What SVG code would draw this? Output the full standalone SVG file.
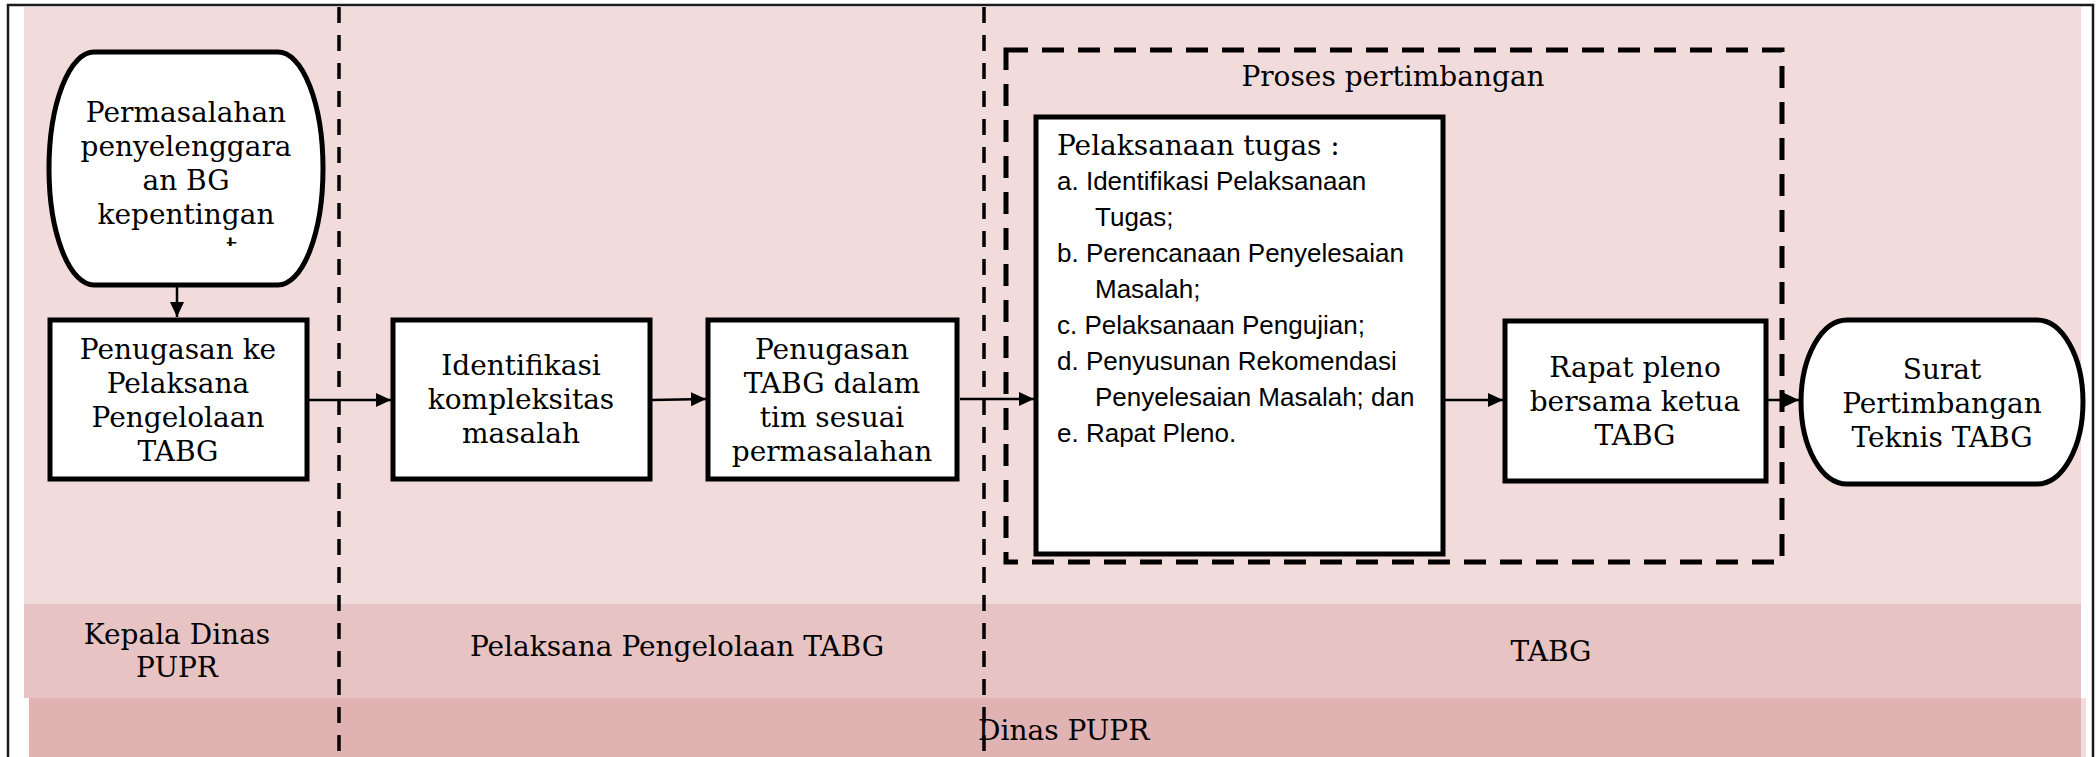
<svg xmlns="http://www.w3.org/2000/svg" width="2100" height="757" viewBox="0 0 2100 757">
<defs>
<style>
.serif{font-family:"DejaVu Serif","Liberation Serif",serif;font-size:28px;fill:#000}
.sans{font-family:"Liberation Sans",Arial,sans-serif;font-size:26px;fill:#000}
.mid{text-anchor:middle}
.node{fill:#fff;stroke:#000;stroke-width:5}
.lane{fill:none;stroke:#000;stroke-width:3.5;stroke-dasharray:16 12}
.group{fill:none;stroke:#000;stroke-width:5;stroke-dasharray:22 14}
.conn{fill:none;stroke:#000;stroke-width:2.5}
</style>
<marker id="arrow" markerUnits="userSpaceOnUse" markerWidth="15" markerHeight="14" refX="15" refY="7" orient="auto">
<path d="M0,0 L15,7 L0,14 Z" fill="#000"/>
</marker>
<clipPath id="cutT"><rect x="200" y="234" width="80" height="12"/></clipPath>
</defs>
<rect x="0" y="0" width="2100" height="757" fill="#fff"/>
<g id="background">
<rect x="24" y="7" width="2057" height="597" fill="#f2dcdb"/>
<rect x="24" y="604" width="2057" height="94" fill="#e8c3c3"/>
<rect x="2081" y="698" width="5" height="59" fill="#f2dcdb"/>
<rect x="29" y="698" width="2052" height="59" fill="#e0b2b2"/>
<rect x="8" y="5" width="2085" height="800" fill="none" stroke="#1a1a1a" stroke-width="2.5"/>
</g>
<g id="lanes">
<line class="lane" x1="339" y1="7" x2="339" y2="757"/>
<line class="lane" x1="984" y1="7" x2="984" y2="757"/>
<text class="serif mid" x="177" y="644">Kepala Dinas</text>
<text class="serif mid" x="177" y="677">PUPR</text>
<text class="serif mid" x="677" y="656">Pelaksana Pengelolaan TABG</text>
<text class="serif mid" x="1551" y="661">TABG</text>
<text class="serif" x="978" y="740">Dinas PUPR</text>
</g>
<g id="proses-pertimbangan">
<rect class="group" x="1006" y="50" width="776" height="512"/>
<text class="serif mid" x="1393" y="86">Proses pertimbangan</text>
</g>
<g id="start">
<path class="node" d="M94,52 H278 A45,116.5 0 0 1 278,285 H94 A45,116.5 0 0 1 94,52 Z"/>
<text class="serif mid" x="186" y="122">Permasalahan</text>
<text class="serif mid" x="186" y="156">penyelenggara</text>
<text class="serif mid" x="186" y="190">an BG</text>
<text class="serif mid" x="186" y="224">kepentingan</text>
<text class="serif" x="226" y="257" clip-path="url(#cutT)">t</text>
</g>
<g id="penugasan-ke">
<rect class="node" x="50" y="320" width="257" height="159"/>
<text class="serif mid" x="178" y="359">Penugasan ke</text>
<text class="serif mid" x="178" y="393">Pelaksana</text>
<text class="serif mid" x="178" y="427">Pengelolaan</text>
<text class="serif mid" x="178" y="461">TABG</text>
</g>
<g id="identifikasi">
<rect class="node" x="393" y="320" width="257" height="159"/>
<text class="serif mid" x="521" y="375">Identifikasi</text>
<text class="serif mid" x="521" y="409">kompleksitas</text>
<text class="serif mid" x="521" y="443">masalah</text>
</g>
<g id="penugasan-tabg">
<rect class="node" x="708" y="320" width="249" height="159"/>
<text class="serif mid" x="832" y="359">Penugasan</text>
<text class="serif mid" x="832" y="393">TABG dalam</text>
<text class="serif mid" x="832" y="427">tim sesuai</text>
<text class="serif mid" x="832" y="461">permasalahan</text>
</g>
<g id="pelaksanaan-tugas">
<rect class="node" x="1036" y="117" width="407" height="437"/>
<text class="serif" x="1057" y="155">Pelaksanaan tugas :</text>
<text class="sans" x="1057" y="190">a. Identifikasi Pelaksanaan</text>
<text class="sans" x="1095" y="226">Tugas;</text>
<text class="sans" x="1057" y="262">b. Perencanaan Penyelesaian</text>
<text class="sans" x="1095" y="298">Masalah;</text>
<text class="sans" x="1057" y="334">c. Pelaksanaan Pengujian;</text>
<text class="sans" x="1057" y="370">d. Penyusunan Rekomendasi</text>
<text class="sans" x="1095" y="406">Penyelesaian Masalah; dan</text>
<text class="sans" x="1057" y="442">e. Rapat Pleno.</text>
</g>
<g id="rapat-pleno">
<rect class="node" x="1505" y="321" width="261" height="160"/>
<text class="serif mid" x="1635" y="377">Rapat pleno</text>
<text class="serif mid" x="1635" y="411">bersama ketua</text>
<text class="serif mid" x="1635" y="445">TABG</text>
</g>
<g id="surat">
<path class="node" d="M1847,320 H2037 A46,82 0 0 1 2037,484 H1847 A46,82 0 0 1 1847,320 Z"/>
<text class="serif mid" x="1942" y="379">Surat</text>
<text class="serif mid" x="1942" y="413">Pertimbangan</text>
<text class="serif mid" x="1942" y="447">Teknis TABG</text>
</g>
<g id="connectors">
<path class="conn" d="M177,287 L177,317" marker-end="url(#arrow)"/>
<path class="conn" d="M309,400 L391,400" marker-end="url(#arrow)"/>
<path class="conn" d="M652,400 L706,399" marker-end="url(#arrow)"/>
<path class="conn" d="M960,399 L1034,399" marker-end="url(#arrow)"/>
<path class="conn" d="M1445,400 L1503,400" marker-end="url(#arrow)"/>
<path class="conn" d="M1768,400 L1799,400" marker-end="url(#arrow)"/>
</g>
</svg>
